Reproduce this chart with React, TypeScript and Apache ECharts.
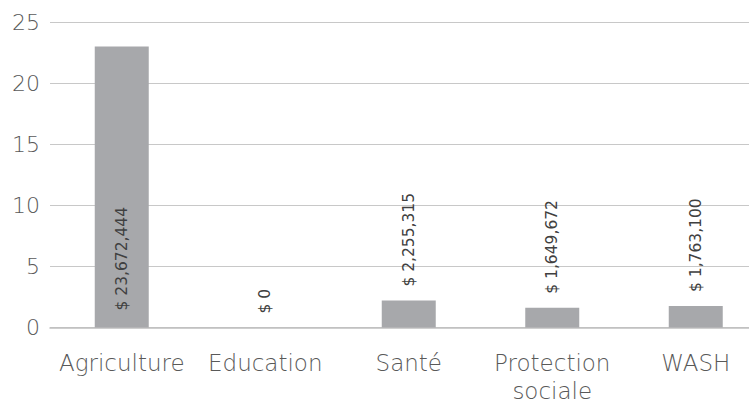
import React, { useEffect, useRef } from "react";
import * as echarts from "echarts";

const categories = ["Agriculture", "Education", "Santé", "Protection\nsociale", "WASH"];
const barValues = [23.0, 0, 2.2, 1.62, 1.76];
const labelTexts = ["$ 23,672,444", "$ 0", "$ 2,255,315", "$ 1,649,672", "$ 1,763,100"];
const yTicks = [0, 5, 10, 15, 20, 25];

export default function App() {
  const ref = useRef<HTMLDivElement>(null);
  useEffect(() => {
    if (!ref.current) return;
    const chart = echarts.init(ref.current, null, { renderer: "svg" });
    const font = "'DejaVu Sans', sans-serif";
    chart.setOption({
      animation: false,
      grid: {
        left: 50,
        width: 717.5,
        top: 22,
        height: 305.5,
        containLabel: false,
        outerBoundsMode: "none",
      },
      xAxis: {
        type: "category",
        data: categories,
        axisLine: { show: true, lineStyle: { color: "#bfbfbf", width: 1.5 } },
        axisTick: { show: false },
        axisLabel: {
          color: "#595959",
          fontSize: 23,
          fontWeight: 300,
          fontFamily: font,
          margin: 21,
          lineHeight: 28,
          interval: 0,
        },
      },
      yAxis: {
        type: "value",
        min: yTicks[0],
        max: yTicks[yTicks.length - 1],
        interval: 5,
        axisLine: { show: false },
        axisTick: { show: false },
        splitLine: { lineStyle: { color: "#c8c8c8", width: 1 } },
        axisLabel: { color: "#595959", fontSize: 22, fontWeight: 300, fontFamily: font, margin: 10 },
      },
      series: [
        {
          type: "bar",
          barWidth: 54,
          itemStyle: { color: "#a7a8ab" },
          data: barValues.map((v, i) => ({
            value: v,
            label: {
              show: true,
              formatter: labelTexts[i],
              position: i === 0 ? "insideBottom" : "top",
              distance: i === 0 ? 17 : 14,
              rotate: 90,
              align: "left",
              verticalAlign: "middle",
              color: "#404040",
              fontSize: 15.5,
              fontFamily: font,
            },
          })),
        },
      ],
    });
    return () => chart.dispose();
  }, []);
  return <div ref={ref} style={{ width: 749, height: 403, position: "absolute", left: 0, top: 0 }} />;
}
